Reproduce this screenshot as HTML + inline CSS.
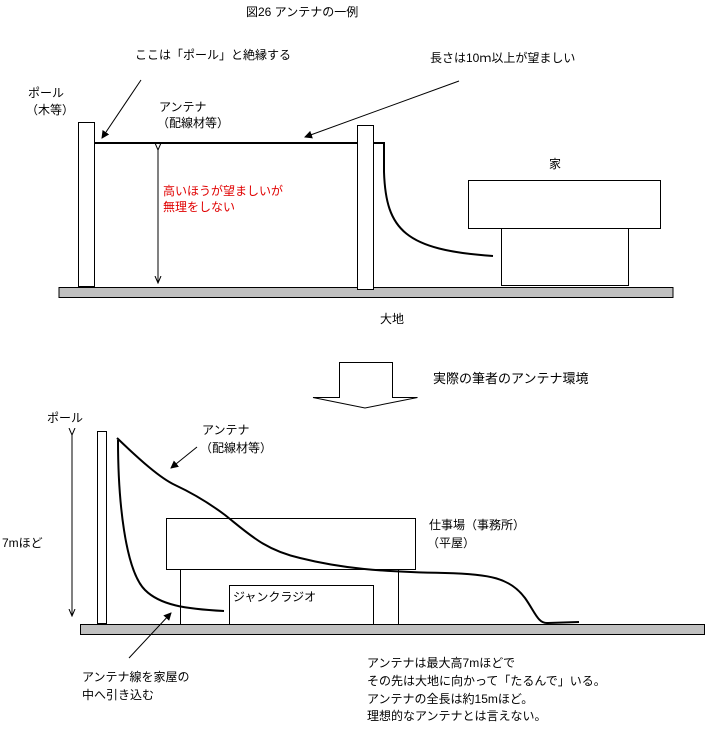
<!DOCTYPE html>
<html><head><meta charset="utf-8"><style>
html,body{margin:0;padding:0;background:#fff;}
svg{display:block;}
text{font-family:"Liberation Sans","Noto Sans CJK JP",sans-serif;font-size:12px;fill:#000;}
</style></head><body>
<svg width="724" height="730" viewBox="0 0 724 730" xmlns="http://www.w3.org/2000/svg">
<defs>
<marker id="ah" markerWidth="8" markerHeight="8" refX="7" refY="4" orient="auto" markerUnits="userSpaceOnUse"><path d="M0,0 L8,4 L0,8 z" fill="#000"/></marker>
<marker id="oa" markerWidth="8" markerHeight="8" refX="7" refY="4" orient="auto" markerUnits="userSpaceOnUse"><path d="M0,1 L7,4 L0,7" fill="none" stroke="#000" stroke-width="1"/></marker>
</defs>
<text x="246" y="16">図26  アンテナの一例</text>
<text x="135" y="59">ここは「ポール」と絶縁する</text>
<text x="430" y="62">長さは10ｍ以上が望ましい</text>
<text x="28" y="97">ポール</text>
<text x="26" y="114">（木等）</text>
<text x="159" y="111">アンテナ</text>
<text x="157" y="127">（配線材等）</text>
<line x1="141" y1="80" x2="102" y2="138" stroke="#000" stroke-width="1" marker-end="url(#ah)"/>
<line x1="459" y1="81" x2="305" y2="137" stroke="#000" stroke-width="1" marker-end="url(#ah)"/>
<!-- ground -->
<rect x="59" y="287.5" width="614" height="10" fill="#c0c0c0" stroke="#000" stroke-width="1"/>
<rect x="78.5" y="122.5" width="16" height="164" fill="#fff" stroke="#000"/>
<rect x="357.5" y="125.5" width="16" height="164" fill="#fff" stroke="#000"/>
<polyline points="94,143 357,143" fill="none" stroke="#000" stroke-width="2"/>
<path d="M373,143 L384,143 L384,172 C386,230 405,250 493,256" fill="none" stroke="#000" stroke-width="2"/>
<line x1="158" y1="150" x2="158" y2="283" stroke="#000" stroke-width="1" marker-start="url(#oa)" marker-end="url(#oa)"/>
<text x="163" y="195" style="fill:#e00000">高いほうが望ましいが</text>
<text x="163" y="211" style="fill:#e00000">無理をしない</text>
<text x="549" y="168">家</text>
<rect x="468.5" y="180.5" width="192" height="48" fill="#fff" stroke="#000"/>
<rect x="501.5" y="228.5" width="127" height="57" fill="#fff" stroke="#000"/>
<text x="380" y="323">大地</text>
<!-- hollow arrow -->
<path d="M339.5,362.5 L392.5,362.5 L392.5,397.5 L417.5,397.5 L365,408 L313,397.5 L339.5,397.5 Z" fill="#fff" stroke="#000"/>
<text x="433" y="383" style="font-size:13px">実際の筆者のアンテナ環境</text>
<!-- bottom -->
<text x="47" y="422">ポール</text>
<text x="2" y="547">7mほど</text>
<line x1="72" y1="435" x2="72" y2="616" stroke="#000" stroke-width="1" marker-start="url(#oa)" marker-end="url(#oa)"/>
<rect x="97.5" y="431.5" width="9" height="192" fill="#fff" stroke="#000"/>
<rect x="80.5" y="624.5" width="624" height="10" fill="#c0c0c0" stroke="#000"/>
<rect x="166.5" y="518.5" width="249" height="51" fill="#fff" stroke="#000"/>
<line x1="180.5" y1="569" x2="180.5" y2="624" stroke="#000"/>
<line x1="398.5" y1="569" x2="398.5" y2="624" stroke="#000"/>
<rect x="229.5" y="585.5" width="144" height="39" fill="#fff" stroke="#000"/>
<text x="233" y="601">ジャンクラジオ</text>
<path d="M117,438 C140,460 160,478 175,485 C190,492 205,500 225,515 C250,535 265,550 300,558 C340,568 380,572 445,573 C490,574 510,578 525,598 C535,612 538,624 548,623 L579,622" fill="none" stroke="#000" stroke-width="2"/>
<path d="M118,440 C118,500 125,570 145,590 C160,605 185,609 224,611" fill="none" stroke="#000" stroke-width="2"/>
<text x="202" y="434">アンテナ</text>
<text x="200" y="452">（配線材等）</text>
<line x1="197" y1="447" x2="171" y2="468" stroke="#000" stroke-width="1" marker-end="url(#ah)"/>
<line x1="129" y1="658" x2="171" y2="613" stroke="#000" stroke-width="1" marker-end="url(#ah)"/>
<text x="429" y="529">仕事場（事務所）</text>
<text x="427" y="547">（平屋）</text>
<text x="82" y="681">アンテナ線を家屋の</text>
<text x="82" y="699">中へ引き込む</text>
<text x="367" y="667">アンテナは最大高7mほどで</text>
<text x="367" y="685">その先は大地に向かって「たるんで」いる。</text>
<text x="367" y="703">アンテナの全長は約15mほど。</text>
<text x="367" y="720">理想的なアンテナとは言えない。</text>
</svg>
</body></html>
